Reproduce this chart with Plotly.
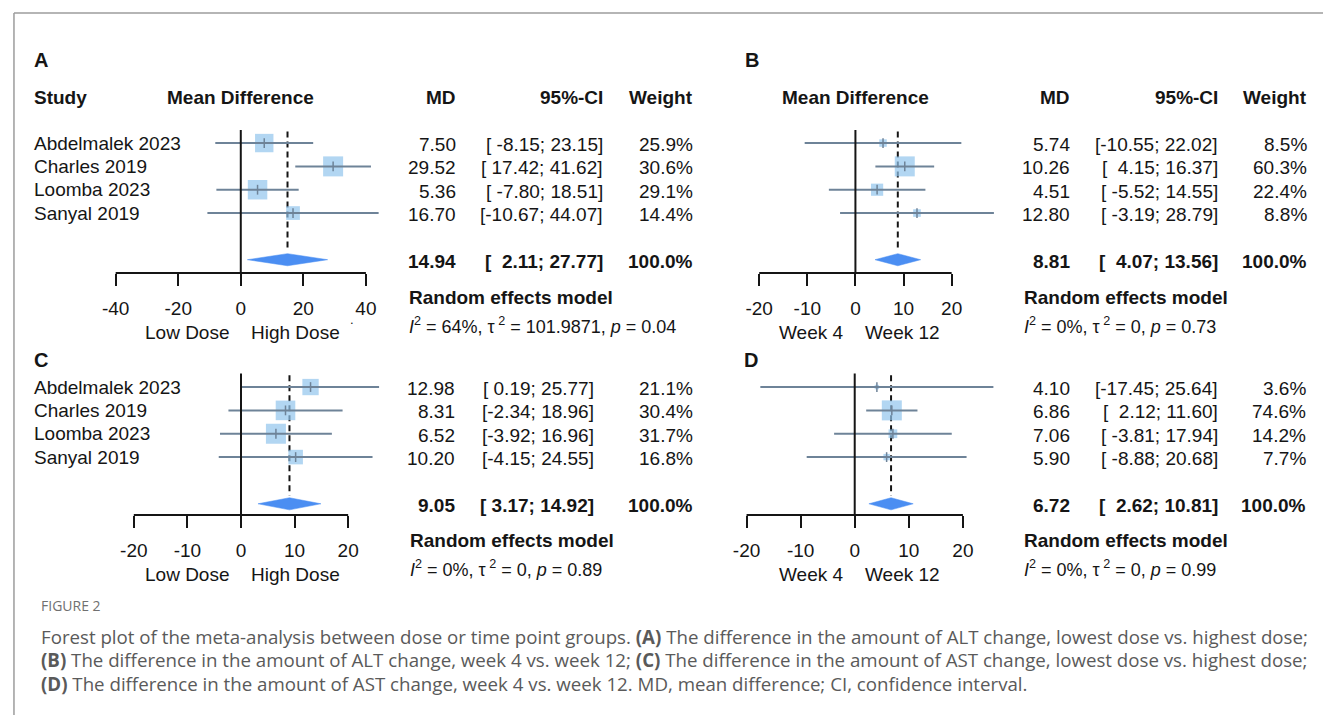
import plotly.graph_objects as go

W, H = 1323, 715

# ---------------- data ----------------
studies = ["Abdelmalek 2023", "Charles 2019", "Loomba 2023", "Sanyal 2019"]

a_md = [7.50, 29.52, 5.36, 16.70]
a_lo = [-8.15, 17.42, -7.80, -10.67]
a_hi = [23.15, 41.62, 18.51, 44.07]
a_w = [25.9, 30.6, 29.1, 14.4]
a_pooled = [14.94, 2.11, 27.77]
a_het = ["64%", "101.9871", "0.04"]

b_md = [5.74, 10.26, 4.51, 12.80]
b_lo = [-10.55, 4.15, -5.52, -3.19]
b_hi = [22.02, 16.37, 14.55, 28.79]
b_w = [8.5, 60.3, 22.4, 8.8]
b_pooled = [8.81, 4.07, 13.56]
b_het = ["0%", "0", "0.73"]

c_md = [12.98, 8.31, 6.52, 10.20]
c_lo = [0.19, -2.34, -3.92, -4.15]
c_hi = [25.77, 18.96, 16.96, 24.55]
c_w = [21.1, 30.4, 31.7, 16.8]
c_pooled = [9.05, 3.17, 14.92]
c_het = ["0%", "0", "0.89"]

d_md = [4.10, 6.86, 7.06, 5.90]
d_lo = [-17.45, 2.12, -3.81, -8.88]
d_hi = [25.64, 11.60, 17.94, 20.68]
d_w = [3.6, 74.6, 14.2, 7.7]
d_pooled = [6.72, 2.62, 10.81]
d_het = ["0%", "0", "0.99"]

ticks_dose = [-40, -20, 0, 20, 40]
ticks_week = [-20, -10, 0, 10, 20]
dose_labels = ["Low Dose", "High Dose"]
week_labels = ["Week 4", "Week 12"]
col_headers = ["Study", "Mean Difference", "MD", "95%-CI", "Weight"]

caption_title = "FIGURE 2"
caption_lines = [
    "Forest plot of the meta-analysis between dose or time point groups. <b>(A)</b> The difference in the amount of ALT change, lowest dose vs. highest dose;",
    "<b>(B)</b> The difference in the amount of ALT change, week 4 vs. week 12; <b>(C)</b> The difference in the amount of AST change, lowest dose vs. highest dose;",
    "<b>(D)</b> The difference in the amount of AST change, week 4 vs. week 12. MD, mean difference; CI, confidence interval.",
]

# ---------------- styling / layout constants ----------------
FONT = "Liberation Sans, Arial, sans-serif"
CAPFONT = "Open Sans, sans-serif"
TXT = "#151515"
SQ = "#92C5EC"
CI = "#6E8398"
DIA = "#4B8EF2"
FS = 19
LSHIFT = -5  # left-anchored text correction (px)

panels = [
    dict(letter="A", md=a_md, lo=a_lo, hi=a_hi, w=a_w, pooled=a_pooled, het=a_het,
         ticks=ticks_dose, labels=dose_labels, study=True,
         zero=237.5, scale=251 / 80, xr=(-45, 48), top=130, bottom=273, yr=(6.57, 0.44),
         md_x=455, ci_x=603, wt_x=693, rem_x=409, letter_xy=(33, 60), hdr_y=97,
         rem_y=297, het_y=325),
    dict(letter="B", md=b_md, lo=b_lo, hi=b_hi, w=b_w, pooled=b_pooled, het=b_het,
         ticks=ticks_week, labels=week_labels, study=False,
         zero=854, scale=193 / 40, xr=(-22, 31), top=130, bottom=273, yr=(6.57, 0.44),
         md_x=1071, ci_x=1220, wt_x=1309, rem_x=1026, letter_xy=(746, 60), hdr_y=97,
         rem_y=297, het_y=325),
    dict(letter="C", md=c_md, lo=c_lo, hi=c_hi, w=c_w, pooled=c_pooled, het=c_het,
         ticks=ticks_week, labels=dose_labels, study=True,
         zero=237.7, scale=215 / 40, xr=(-22, 28), top=373.5, bottom=515, yr=(6.48, 0.42),
         md_x=454, ci_x=594, wt_x=693, rem_x=410, letter_xy=(33, 360), hdr_y=None,
         rem_y=540, het_y=568),
    dict(letter="D", md=d_md, lo=d_lo, hi=d_hi, w=d_w, pooled=d_pooled, het=d_het,
         ticks=ticks_week, labels=week_labels, study=False,
         zero=853.3, scale=217 / 40, xr=(-22, 28), top=373.5, bottom=515, yr=(6.48, 0.42),
         md_x=1071, ci_x=1220, wt_x=1308, rem_x=1026, letter_xy=(745, 360), hdr_y=None,
         rem_y=540, het_y=568),
]


def px(x):
    return x / W


def py(y):
    return 1 - y / H


fig = go.Figure()
annotations = []
shapes = []
layout_axes = {}


def ann(text, x, y, xanchor="left", size=FS, bold=False, color=TXT, xref="paper", yref="paper",
        family=FONT, yshift=0):
    if bold:
        text = "<b>" + text + "</b>"
    xshift = LSHIFT if xanchor == "left" else 0
    annotations.append(dict(text=text, x=x, y=y, xref=xref, yref=yref, xanchor=xanchor,
                            yanchor="middle", showarrow=False, xshift=xshift, yshift=yshift,
                            font=dict(family=family, size=size, color=color)))


for i, p in enumerate(panels):
    n = i + 1
    xa = "x" if n == 1 else f"x{n}"
    ya = "y" if n == 1 else f"y{n}"
    xname = "xaxis" if n == 1 else f"xaxis{n}"
    yname = "yaxis" if n == 1 else f"yaxis{n}"
    x0 = p["zero"] + p["xr"][0] * p["scale"]
    x1 = p["zero"] + p["xr"][1] * p["scale"]
    layout_axes[xname] = dict(domain=[px(x0), px(x1)], range=list(p["xr"]), anchor=ya,
                              showgrid=False, zeroline=False, showline=False,
                              tickmode="array", tickvals=p["ticks"],
                              ticktext=[str(t) for t in p["ticks"]],
                              ticks="outside", ticklen=12, tickwidth=2, tickcolor=TXT,
                              ticklabelstandoff=6,
                              tickfont=dict(family=FONT, size=FS, color=TXT),
                              fixedrange=True)
    layout_axes[yname] = dict(domain=[py(p["bottom"]), py(p["top"])], range=list(p["yr"]),
                              anchor=xa, visible=False, fixedrange=True)

    rows = [1, 2, 3, 4]
    est, plo, phi = p["pooled"]
    wmax = max(p["w"])

    # pooled-estimate dashed reference line
    fig.add_trace(go.Scatter(x=[est, est], y=[0.5, 5.65], mode="lines", xaxis=xa, yaxis=ya,
                             line=dict(color=TXT, width=2, dash="6px,4px"),
                             hoverinfo="skip", showlegend=False))
    # weight squares
    fig.add_trace(go.Scatter(x=p["md"], y=rows, mode="markers", xaxis=xa, yaxis=ya,
                             marker=dict(symbol="square", color=SQ,
                                         size=[20 * (w / wmax) ** 0.5 for w in p["w"]],
                                         line=dict(width=0)),
                             cliponaxis=False, hoverinfo="skip", showlegend=False))
    # confidence intervals
    cx, cy = [], []
    for lo, hi, r in zip(p["lo"], p["hi"], rows):
        cx += [lo, hi, None]
        cy += [r, r, None]
    fig.add_trace(go.Scatter(x=cx, y=cy, mode="lines", xaxis=xa, yaxis=ya,
                             line=dict(color=CI, width=2), hoverinfo="skip", showlegend=False))
    # point tick
    fig.add_trace(go.Scatter(x=p["md"], y=rows, mode="markers", xaxis=xa, yaxis=ya,
                             marker=dict(symbol="line-ns", size=7, line=dict(color=CI, width=1.5)),
                             cliponaxis=False, hoverinfo="skip", showlegend=False))
    # diamond
    hh = 0.26
    fig.add_trace(go.Scatter(x=[plo, est, phi, est, plo], y=[6, 6 - hh, 6, 6 + hh, 6],
                             mode="lines", fill="toself", fillcolor=DIA, xaxis=xa, yaxis=ya,
                             line=dict(color=DIA, width=0.5), hoverinfo="skip", showlegend=False))

    # axes lines
    shapes.append(dict(type="line", xref=xa, yref=f"{ya} domain", x0=0, x1=0, y0=0, y1=1,
                       line=dict(color=TXT, width=2)))
    shapes.append(dict(type="line", xref=xa, yref=f"{ya} domain", x0=p["ticks"][0],
                       x1=p["ticks"][-1], y0=0, y1=0, line=dict(color=TXT, width=2)))

    # lower labels
    lab_y = p["bottom"] + 59
    annotations.append(dict(text=p["labels"][0], x=0, y=py(lab_y), xref=xa, yref="paper",
                            xanchor="right", yanchor="middle", xshift=-9, showarrow=False,
                            font=dict(family=FONT, size=FS, color=TXT)))
    annotations.append(dict(text=p["labels"][1], x=0, y=py(lab_y), xref=xa, yref="paper",
                            xanchor="left", yanchor="middle", xshift=8, showarrow=False,
                            font=dict(family=FONT, size=FS, color=TXT)))

    # panel letter
    ann(p["letter"], px(p["letter_xy"][0]), py(p["letter_xy"][1]), bold=True, size=20)

    # headers
    if p["hdr_y"] is not None:
        hy = py(p["hdr_y"])
        if p["study"]:
            ann(col_headers[0], px(33), hy, bold=True)
        ann(col_headers[1], px(p["zero"] + (p["ticks"][0] + p["ticks"][-1]) / 2 * p["scale"]), hy,
            xanchor="center", bold=True)
        ann(col_headers[2], px(p["md_x"]), hy, xanchor="right", bold=True)
        ann(col_headers[3], px(p["ci_x"]), hy, xanchor="right", bold=True)
        ann(col_headers[4], px(p["wt_x"]), hy, xanchor="right", bold=True)

    # row texts
    lo_s = [f"{v:.2f}" for v in p["lo"] + [plo]]
    wlo = max(len(s) for s in lo_s)
    hi_s = [f"{v:.2f}" for v in p["hi"] + [phi]]
    whi = max(len(s) for s in hi_s)
    nb = "\u00a0"
    for k in range(5):
        r = rows[k] if k < 4 else 6
        bold = k == 4
        md_t = f"{(p['md'] + [est])[k]:.2f}"
        ci_t = "[" + lo_s[k].rjust(wlo, nb) + ";" + nb + hi_s[k].rjust(whi, nb) + "]"
        wt_t = f"{(p['w'] + [100.0])[k]:.1f}%"
        if k < 4 and p["study"]:
            ann(studies[k], px(33), r, yref=ya)
        ann(md_t, px(p["md_x"]), r, xanchor="right", bold=bold, yref=ya, yshift=-1.5)
        ann(ci_t, px(p["ci_x"]), r, xanchor="right", bold=bold, yref=ya, yshift=-1.5)
        ann(wt_t, px(p["wt_x"]), r, xanchor="right", bold=bold, yref=ya, yshift=-1.5)

    ann("Random effects model", px(p["rem_x"]), py(p["rem_y"]), bold=True)
    i2, t2, pv = p["het"]
    ann(f"<i>I</i><sup>2</sup> = {i2}, \u03c4<sup> 2</sup> = {t2}, <i>p</i> = {pv}",
        px(p["rem_x"]), py(p["het_y"]), size=18)

# stray dot after "High Dose" in panel A
ann(".", px(350), py(320), size=13)

# frame
shapes.append(dict(type="line", xref="paper", yref="paper", x0=px(10), x1=1, y0=py(13), y1=py(13),
                   line=dict(color="#9c9c9c", width=1.5)))
shapes.append(dict(type="line", xref="paper", yref="paper", x0=px(10), x1=px(10), y0=py(13), y1=0,
                   line=dict(color="#9c9c9c", width=1.5)))

# caption
ann(caption_title, px(40), py(605), size=14, color="#707070", family=CAPFONT)
for j, line in enumerate(caption_lines):
    ann(line, px(40), py(636 + j * 23.5), size=18.7, color="#5a5a5a", family=CAPFONT)

fig.update_layout(width=W, height=H, margin=dict(l=0, r=0, t=0, b=0),
                  paper_bgcolor="white", plot_bgcolor="white", showlegend=False,
                  annotations=annotations, shapes=shapes, **layout_axes)

fig.write_html("out.html")
